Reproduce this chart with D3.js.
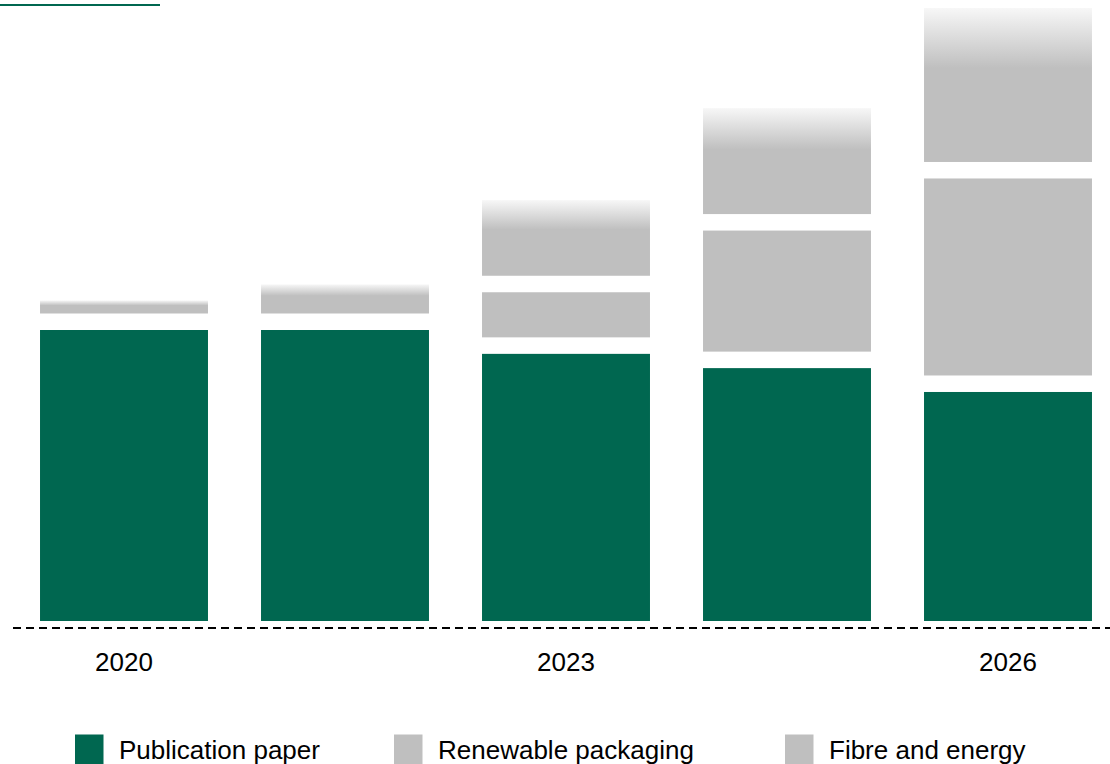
<!DOCTYPE html>
<html>
<head>
<meta charset="utf-8">
<script src="https://cdn.jsdelivr.net/npm/d3@7"></script>
<style>
  html, body { margin: 0; padding: 0; background: #fff; overflow: hidden; }
  svg { display: block; font-family: "Liberation Sans", Arial, sans-serif; }
</style>
</head>
<body>
<svg id="chart" width="1110" height="764"></svg>
<script>
// ---- data (index units, publication paper 2020 = 100) ----
const categories = ["2020", "2021", "2023", "2024", "2026"];
const yearLabels = ["2020", "", "2023", "", "2026"];
const publicationPaper = [100, 100, 91.8, 86.9, 78.7];
const renewablePackaging = [0, 0, 15.5, 41.6, 67.7];
const fibreAndEnergy = [4.5, 10, 26, 36.4, 52.9];
const seriesNames = ["Publication paper", "Renewable packaging", "Fibre and energy"];
const seriesColors = ["#006750", "#bfbfbf", "#bfbfbf"];

const svg = d3.select("#chart");
const W = 1110, H = 764;
const baseY = 621;
const gap = 16.5;

const x = d3.scaleBand()
  .domain(categories)
  .range([13.5, 1118.5])
  .paddingInner(0.24)
  .paddingOuter(0.12);

const y = d3.scaleLinear().domain([0, 100]).range([0, 291]); // value -> pixel height

// gradient for the top (uncertain) segment
const defs = svg.append("defs");
const grad = defs.append("linearGradient")
  .attr("id", "fade").attr("x1", 0).attr("y1", 0).attr("x2", 0).attr("y2", 1);
grad.append("stop").attr("offset", 0).attr("stop-color", "#f7f7f7");
grad.append("stop").attr("offset", 0.39).attr("stop-color", "#bfbfbf");
grad.append("stop").attr("offset", 1).attr("stop-color", "#bfbfbf");

// top-left cut-off title underline
svg.append("line")
  .attr("x1", 0).attr("x2", 160).attr("y1", 5).attr("y2", 5)
  .attr("stroke", "#006750").attr("stroke-width", 2.2);

// build segments
const segs = [];
categories.forEach((c, i) => {
  const vals = [publicationPaper[i], renewablePackaging[i], fibreAndEnergy[i]];
  let top = baseY;
  let first = true;
  vals.forEach((v, k) => {
    if (v <= 0) return;
    if (!first) top -= gap;
    const h = y(v);
    segs.push({ cat: c, k, y: top - h, h, isTop: k === 2 });
    top -= h;
    first = false;
  });
});

svg.append("g").selectAll("rect")
  .data(segs)
  .join("rect")
  .attr("x", d => x(d.cat))
  .attr("width", x.bandwidth())
  .attr("y", d => d.y)
  .attr("height", d => d.h)
  .attr("fill", d => d.isTop ? "url(#fade)" : seriesColors[d.k]);

// dashed baseline
svg.append("line")
  .attr("x1", 13).attr("x2", W).attr("y1", 628).attr("y2", 628)
  .attr("stroke", "#000").attr("stroke-width", 2)
  .attr("stroke-dasharray", "8,5");

// x-axis labels
const xAxis = d3.axisBottom(x)
  .tickSize(0)
  .tickFormat((d, i) => yearLabels[i]);
const gx = svg.append("g").attr("transform", `translate(0,${650})`).call(xAxis);
gx.select(".domain").remove();
gx.selectAll("text")
  .attr("dy", 0).attr("y", 20.5)
  .attr("font-size", 26)
  .attr("font-family", "'Liberation Sans', Arial, sans-serif")
  .attr("fill", "#000");

// legend
const legendX = [75, 394, 785];
const lg = svg.append("g").selectAll("g")
  .data(seriesNames)
  .join("g")
  .attr("transform", (d, i) => `translate(${legendX[i]},734.5)`);
lg.append("rect")
  .attr("width", 28.5).attr("height", 29.5)
  .attr("fill", (d, i) => seriesColors[i]);
lg.append("text")
  .attr("x", 44).attr("y", 24)
  .attr("font-size", 26)
  .attr("fill", "#000")
  .text(d => d);
</script>
</body>
</html>
